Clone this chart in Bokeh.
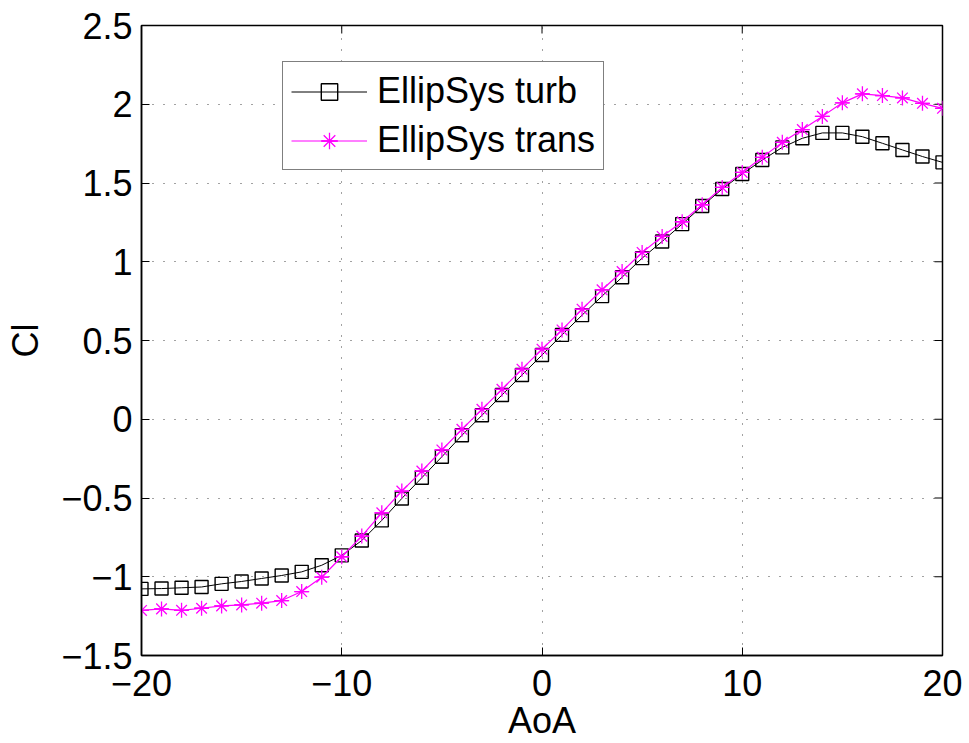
import math
from bokeh.plotting import figure
from bokeh.models import (FixedTicker, Legend, LegendItem, Range1d)
from bokeh.embed import file_html
from bokeh.resources import INLINE

aoa = list(range(-20, 21))
cl_turb = [-1.077, -1.075, -1.07, -1.065, -1.045, -1.03, -1.011, -0.992, -0.969, -0.927, -0.864,
           -0.77, -0.642, -0.503, -0.371, -0.238, -0.102, 0.025, 0.154, 0.281, 0.408, 0.536,
           0.661, 0.782, 0.902, 1.023,
           1.129, 1.239, 1.354, 1.462, 1.557, 1.646, 1.726, 1.784, 1.818, 1.818, 1.794, 1.752,
           1.71, 1.668, 1.631]
cl_trans = [-1.214, -1.204, -1.213, -1.2, -1.185, -1.179, -1.168, -1.151, -1.094, -1.003, -0.873,
            -0.742, -0.594, -0.456, -0.329, -0.195, -0.064, 0.063, 0.19, 0.318, 0.445, 0.567,
            0.699, 0.822, 0.938, 1.059,
            1.161, 1.254, 1.362, 1.472, 1.567, 1.663, 1.758, 1.839, 1.923, 2.009, 2.066, 2.055,
            2.04, 2.006, 1.974]
x_ticks = [-20, -10, 0, 10, 20]
y_ticks = [-1.5, -1, -0.5, 0, 0.5, 1, 1.5, 2, 2.5]
x_tick_labels = {-20: "\u221220", -10: "\u221210", 0: "0", 10: "10", 20: "20"}
y_tick_labels = {-1.5: "\u22121.5", -1: "\u22121", -0.5: "\u22120.5", 0: "0", 0.5: "0.5",
                 1: "1", 1.5: "1.5", 2: "2", 2.5: "2.5"}
series_names = ["EllipSys turb", "EllipSys trans"]

FONT = "Liberation Sans"
FS = "36px"

x_lo, x_hi = x_ticks[0], x_ticks[-1]
y_lo, y_hi = y_ticks[0], y_ticks[-1]

p = figure(width=969, height=743, output_backend="svg", toolbar_location=None,
           x_range=Range1d(x_lo, x_hi), y_range=Range1d(y_lo, y_hi),
           min_border_left=141, min_border_right=27, min_border_top=25, min_border_bottom=88,
           x_axis_label="AoA", y_axis_label="Cl")
p.background_fill_color = "white"
p.border_fill_color = "white"
p.outline_line_color = "black"
p.outline_line_width = 1.5

for ax, ticks, labels in ((p.xaxis[0], x_ticks, x_tick_labels), (p.yaxis[0], y_ticks, y_tick_labels)):
    ax.ticker = FixedTicker(ticks=ticks)
    ax.major_label_overrides = labels
    ax.major_tick_in = 8
    ax.major_tick_out = 0
    ax.minor_tick_line_color = None
    ax.axis_line_width = 1.5
    ax.major_tick_line_width = 1
    ax.major_label_text_font = FONT
    ax.major_label_text_font_size = FS
    ax.major_label_text_color = "black"
    ax.axis_label_text_font = FONT
    ax.axis_label_text_font_size = FS
    ax.axis_label_text_font_style = "normal"
    ax.axis_label_text_color = "black"

p.xaxis[0].major_label_standoff = 14
p.xaxis[0].axis_label_standoff = 1
p.yaxis[0].major_label_standoff = 9
p.yaxis[0].axis_label_standoff = 12

for g, ticks in ((p.xgrid[0], x_ticks), (p.ygrid[0], y_ticks)):
    g.ticker = FixedTicker(ticks=ticks)
    g.grid_line_color = "#444444"
    g.grid_line_dash = "1 10"
    g.grid_line_width = 1

# inward ticks on the right and top edges (box on); half of each dash is clipped by the frame
p.scatter([x_hi] * len(y_ticks), y_ticks, marker="dash", size=16, line_color="black", line_width=1)
p.scatter(x_ticks, [y_hi] * len(x_ticks), marker="dash", size=16, angle=math.pi / 2,
          line_color="black", line_width=1)

l1 = p.line(aoa, cl_turb, line_color="black", line_width=1)
m1 = p.scatter(aoa, cl_turb, marker="square", size=13, line_color="black", line_width=1.4,
               fill_color=None)
l2 = p.line(aoa, cl_trans, line_color="#FF00FF", line_width=1.2)
m2 = p.scatter(aoa, cl_trans, marker="asterisk", size=15, line_color="#FF00FF", line_width=1.3)
m2b = p.scatter(aoa, cl_trans, marker="dash", size=14, line_color="#FF00FF", line_width=1.3)

legend = Legend(items=[LegendItem(label=series_names[0], renderers=[l1, m1]),
                       LegendItem(label=series_names[1], renderers=[l2, m2, m2b])],
                location=(141, 485))
legend.label_text_font = FONT
legend.label_text_font_size = FS
legend.label_text_color = "black"
legend.glyph_width = 76
legend.glyph_height = 41
legend.spacing = 7
legend.padding = 8
legend.margin = 0
legend.label_standoff = 10
legend.border_line_color = "black"
legend.border_line_width = 1.5
legend.background_fill_color = "white"
legend.background_fill_alpha = 1
p.add_layout(legend, "center")

open("out.html", "w").write(file_html(p, INLINE))
